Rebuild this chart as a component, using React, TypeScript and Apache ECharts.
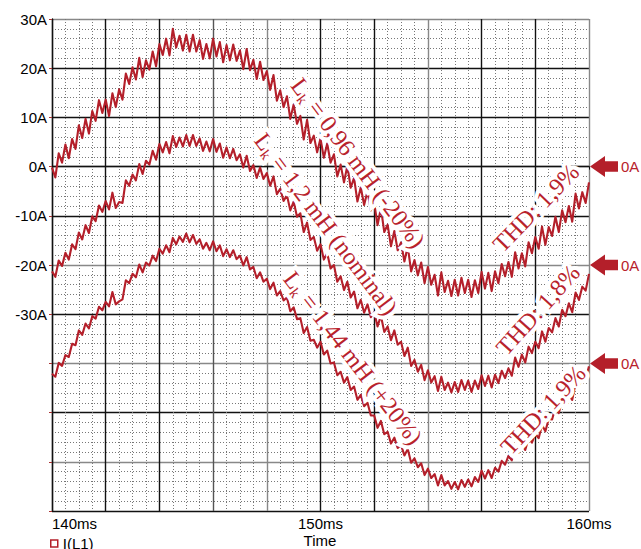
import React, { useEffect, useRef } from "react";
import * as echarts from "echarts";

// ---- data ----
const sampleStartMs = 140;
const sampleStepMs = 0.125;
const xTickLabels = [140, 150, 160];
const yTickLabels = [30, 20, 10, 0, -10, -20, -30];
const legendName = "I(L1)";
const traceOffsets = [0, -20, -40]; // each trace is shifted so its "0A" sits at this level

// Lk = 0,96 mH (-20%) : current in A, every 0.125 ms from 140 ms
const lk096 = [
  -0.2, -2.2, 2.7, 0.8, 4.5, 1.7, 5.6, 3.6, 8.4, 5.8, 9.7, 6.7, 11.3, 9.3, 13.5, 10.9, 13.6, 10.3, 14.9, 12.1,
  15.7, 13.6, 18.9, 16.8, 20.2, 17.7, 22.1, 18.2, 21.6, 19.7, 23.4, 20.4, 24.9, 22.7, 26.0, 22.6, 28.0, 24.2, 26.6, 23.6,
  26.8, 23.4, 26.8, 23.4, 25.7, 21.9, 24.9, 22.0, 26.0, 22.4, 25.3, 21.2, 24.7, 21.6, 24.8, 21.5, 23.6, 19.8, 23.9, 19.6,
  21.7, 17.8, 21.3, 17.6, 19.4, 15.6, 18.6, 13.4, 15.5, 12.1, 14.3, 9.7, 12.6, 8.7, 10.3, 5.5, 9.5, 4.8, 6.3, 2.9,
  5.7, 1.8, 4.7, 0.8, 2.5, -2.0, 0.4, -3.2, 0.2, -4.3, -2.3, -7.1, -4.2, -7.8, -5.0, -8.9, -7.4, -11.9, -8.4, -13.3,
  -11.8, -16.2, -13.1, -17.0, -15.4, -19.3, -16.2, -21.3, -19.0, -22.1, -19.5, -23.7, -20.4, -24.0, -22.0, -26.2, -21.5, -25.5, -23.2, -26.3,
  -23.0, -26.2, -22.6, -25.7, -23.0, -26.5, -23.1, -25.7, -21.4, -24.8, -21.6, -25.3, -21.3, -23.7, -19.8, -22.3, -19.4, -22.4, -17.4, -20.7,
  -17.6, -20.3, -15.4, -17.6, -14.3, -16.7, -12.2, -15.9, -12.3, -14.1, -10.2, -13.3, -8.9, -11.3, -8.0, -11.2, -5.5, -8.5, -5.2, -7.4,
  -3.2,
];
// Lk = 1,2 mH (nominal)
const lk120 = [
  -1.3, -2.4, 0.9, -0.2, 2.5, 1.1, 4.2, 3.2, 6.6, 5.2, 8.1, 6.5, 9.9, 8.9, 12.1, 10.8, 13.0, 11.3, 14.7, 11.6,
  12.8, 12.6, 17.2, 16.1, 18.4, 17.2, 20.5, 18.5, 21.2, 20.4, 23.2, 21.4, 24.6, 22.9, 25.0, 22.7, 26.2, 24.0, 25.9, 24.1,
  26.4, 24.2, 26.4, 24.2, 25.7, 23.2, 25.1, 23.1, 25.6, 23.0, 24.7, 21.8, 23.9, 21.7, 23.6, 21.3, 22.5, 19.8, 22.2, 19.1,
  20.3, 17.7, 19.8, 17.5, 18.7, 16.1, 18.0, 14.4, 15.5, 13.0, 14.2, 11.1, 12.9, 9.8, 10.5, 6.7, 8.6, 5.1, 5.7, 2.9,
  4.2, 1.1, 2.4, -0.7, 0.0, -3.4, -2.3, -5.1, -3.4, -6.6, -5.4, -8.8, -7.1, -9.7, -8.0, -10.6, -9.6, -12.5, -10.3, -13.6,
  -12.5, -15.3, -13.3, -16.2, -15.6, -18.5, -16.8, -20.5, -19.3, -21.7, -20.3, -23.4, -21.4, -23.9, -22.6, -25.6, -22.7, -25.4, -23.9, -25.9,
  -23.8, -25.8, -23.4, -25.4, -23.5, -25.8, -23.5, -25.2, -22.4, -24.6, -22.5, -24.9, -22.3, -24.0, -21.5, -23.0, -21.0, -22.5, -18.8, -20.7,
  -18.2, -19.8, -16.6, -17.9, -15.6, -16.9, -13.5, -15.6, -12.8, -13.7, -10.8, -12.5, -9.1, -10.4, -7.8, -9.6, -5.6, -7.1, -4.4, -5.2,
  -1.8,
];
// Lk = 1,44 mH (+20%)
const lk144 = [
  -2.1, -2.7, 0.1, -0.5, 1.7, 1.3, 4.0, 3.7, 6.7, 5.8, 8.1, 7.1, 9.6, 9.1, 11.5, 10.8, 12.5, 11.6, 14.5, 12.0,
  12.6, 13.0, 16.9, 16.3, 18.2, 17.5, 20.1, 18.5, 20.5, 19.9, 21.9, 20.8, 23.3, 22.3, 24.0, 22.6, 25.5, 24.2, 25.8, 24.7,
  26.4, 24.6, 26.1, 24.3, 25.2, 23.3, 24.5, 23.0, 24.8, 22.8, 24.0, 21.8, 23.2, 21.6, 23.0, 21.2, 21.9, 19.9, 21.6, 19.1,
  19.6, 17.3, 18.5, 16.6, 17.2, 15.1, 16.4, 13.8, 14.7, 12.8, 13.4, 10.6, 11.4, 9.0, 9.2, 6.2, 7.4, 4.6, 4.8, 3.2,
  4.4, 1.8, 2.6, 0.0, 0.2, -2.4, -1.7, -3.9, -2.8, -5.4, -4.7, -7.4, -6.4, -8.7, -8.0, -10.6, -10.6, -13.1, -11.7, -14.4,
  -13.9, -16.3, -15.1, -17.2, -16.6, -18.7, -17.4, -20.2, -19.3, -21.1, -20.3, -22.7, -21.4, -23.3, -22.5, -24.8, -22.7, -24.8, -23.9, -25.5,
  -24.1, -25.6, -23.7, -25.1, -23.6, -25.0, -23.1, -24.1, -21.8, -23.4, -21.7, -23.3, -21.2, -22.0, -19.8, -20.6, -18.8, -19.7, -16.8, -18.2,
  -16.4, -17.6, -15.2, -16.1, -14.3, -15.2, -12.5, -13.8, -11.3, -11.4, -8.9, -10.1, -7.5, -8.3, -6.4, -7.4, -4.0, -4.8, -2.6, -3.1,
  -0.6,
];
const traces = [lk096, lk120, lk144];

const inductanceLabels = [" = 0,96 mH (-20%)", " = 1,2 mH (nominal)", " = 1,44 mH (+20%)"];
const thdLabels = ["THD: 1,9%", "THD: 1,8%", "THD: 1,9%"];

// ---- layout / style ----
const RED = "#b41f2a";
const TEXT_RED = "#b8222c";
const HALO = "#ffffff";
const SANS = "'Liberation Sans', Arial, sans-serif";
const SERIF = "'Liberation Serif', 'Times New Roman', serif";
const ANNO_SIZE = 24;

const lkLayout = [
  { x: 358, y: 163, deg: -53 },
  { x: 326, y: 224, deg: -53 },
  { x: 353, y: 358, deg: -52.5 },
];
const thdLayout = [
  { x: 536, y: 208, deg: 46 },
  { x: 538, y: 310, deg: 48 },
  { x: 543, y: 410, deg: 47 },
];

const ySplitColors = ["#111", "#888", "#111", "#888", "#111", "#888", "#111", "#888", "#111", "#111", "#888"];
const xSplitColors = ["#111", "#111", "#111", "#555", "#888", "#111", "#111", "#888", "#111", "#111", "#888"];

const arrowPath = "path://M0,10 L15,0 L15,5 L28,5 L28,15 L15,15 L15,20 Z";

function annoText(x: number, y: number, deg: number, text: string, rich: boolean, halo: boolean) {
  const fill = halo ? HALO : TEXT_RED;
  const stroke = halo ? HALO : "none";
  const lw = halo ? 8 : 0;
  const style: any = {
    text,
    align: "center",
    verticalAlign: "middle",
    fontSize: ANNO_SIZE,
    fontFamily: SERIF,
    fill,
    stroke,
    lineWidth: lw,
  };
  if (rich) {
    style.rich = {
      l: { fontSize: ANNO_SIZE, fontFamily: SERIF, fill, stroke, lineWidth: lw, verticalAlign: "middle" },
      k: {
        fontSize: 15,
        fontFamily: SERIF,
        fill,
        stroke,
        lineWidth: lw,
        verticalAlign: "bottom",
        padding: [13, 0, 0, 0],
      },
    };
  }
  return {
    type: "text",
    x,
    y,
    rotation: (deg * Math.PI) / 180,
    z: halo ? 20 : 21,
    silent: true,
    style,
  };
}

export default function App() {
  const ref = useRef<HTMLDivElement>(null);

  useEffect(() => {
    if (!ref.current) return;
    const chart = echarts.init(ref.current, undefined, { renderer: "svg" });

    const series = traces.map((vals, i) => ({
      name: legendName,
      type: "line",
      showSymbol: false,
      symbol: "none",
      lineStyle: { color: RED, width: 2.1, join: "round" },
      itemStyle: { color: RED },
      data: vals.map((v, k) => [sampleStartMs + k * sampleStepMs, v + traceOffsets[i]]),
      z: 2,
      markPoint: {
        symbol: arrowPath,
        symbolSize: [28, 21],
        symbolOffset: [15, 0],
        itemStyle: { color: RED },
        label: {
          show: true,
          position: "right",
          distance: 3,
          formatter: "0A",
          color: TEXT_RED,
          fontSize: 15,
          fontFamily: SANS,
        },
        data: [{ coord: [160, traceOffsets[i]] }],
      },
    }));

    const graphics: any[] = [];
    inductanceLabels.forEach((txt, i) => {
      const p = lkLayout[i];
      const t = `{l|L}{k|k}{l|${txt}}`;
      graphics.push(annoText(p.x, p.y, p.deg, t, true, true));
      graphics.push(annoText(p.x, p.y, p.deg, t, true, false));
    });
    thdLabels.forEach((txt, i) => {
      const p = thdLayout[i];
      graphics.push(annoText(p.x, p.y, p.deg, txt, false, true));
      graphics.push(annoText(p.x, p.y, p.deg, txt, false, false));
    });
    graphics.push({
      type: "text",
      x: 320,
      y: 533,
      z: 5,
      style: { text: "Time", align: "center", verticalAlign: "top", fontSize: 15, fontFamily: SANS, fill: "#000" },
    });

    chart.setOption({
      animation: false,
      backgroundColor: "#fff",
      grid: { left: 52, right: 52, top: 19, bottom: 38, containLabel: false },
      legend: {
        left: 50,
        top: 536,
        padding: 0,
        icon: "rect",
        itemWidth: 7,
        itemHeight: 7,
        selectedMode: false,
        textStyle: { fontSize: 15, fontFamily: SANS, color: "#000" },
        data: [{ name: legendName, itemStyle: { color: "#fff", borderColor: RED, borderWidth: 1.5 } }],
      },
      xAxis: {
        type: "value",
        min: 140,
        max: 160,
        interval: 2,
        axisLine: { show: true, lineStyle: { color: "#111", width: 1.3 } },
        axisTick: { show: true, length: 3, lineStyle: { color: "#111" } },
        axisLabel: {
          formatter: (v: number) => (xTickLabels.includes(v) ? `${v}ms` : ""),
          fontSize: 15,
          fontFamily: SANS,
          color: "#000",
          margin: 5,
          alignMinLabel: "left",
          showMinLabel: true,
          showMaxLabel: true,
        },
        splitLine: { show: true, lineStyle: { color: xSplitColors, width: 1.4 } },
        minorTick: { show: false, splitNumber: 4 },
        minorSplitLine: { show: true, lineStyle: { color: "#777", width: 1, type: [1, 2] } },
      },
      yAxis: {
        type: "value",
        min: -70,
        max: 30,
        interval: 10,
        axisLine: { show: true, lineStyle: { color: "#111", width: 1.3 } },
        axisTick: { show: true, length: 3, lineStyle: { color: "#a33" } },
        axisLabel: {
          formatter: (v: number) => (yTickLabels.includes(v) ? `${v}A` : ""),
          fontSize: 15,
          fontFamily: SANS,
          color: "#000",
          margin: 5,
        },
        splitLine: { show: true, lineStyle: { color: ySplitColors, width: 1.4 } },
        minorTick: { show: false, splitNumber: 5 },
        minorSplitLine: { show: true, lineStyle: { color: "#777", width: 1, type: [1, 2] } },
      },
      series,
      graphic: graphics,
    });

    return () => chart.dispose();
  }, []);

  return (
    <div
      ref={ref}
      style={{ position: "fixed", left: 0, top: 0, width: 641, height: 549, background: "#fff" }}
    />
  );
}
